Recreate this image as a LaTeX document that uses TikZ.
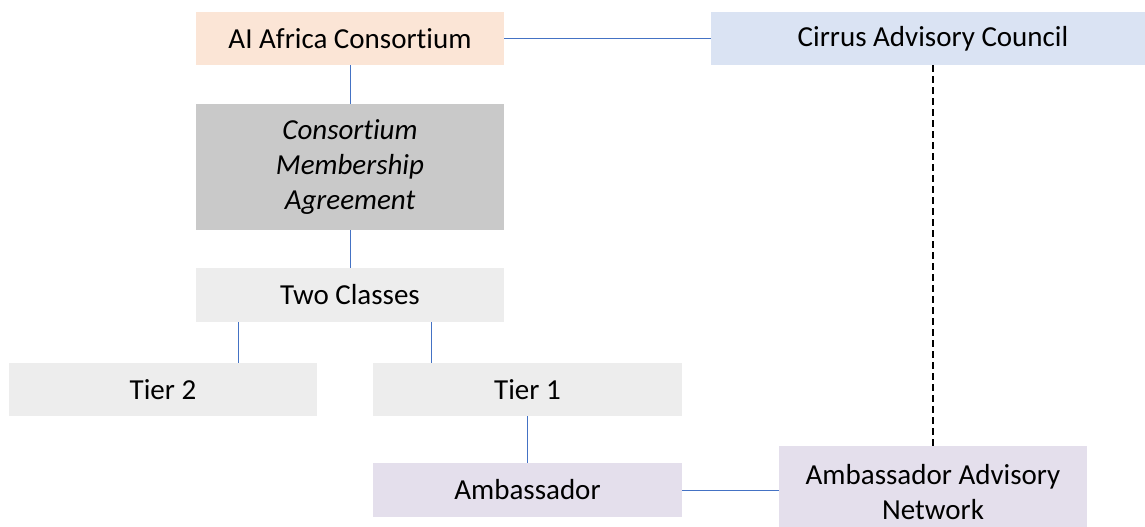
\documentclass[tikz,border=0pt]{standalone}
\usepackage{fontspec}
\setmainfont[Ligatures={NoCommon,NoRare,NoContextual},RawFeature={-liga;-clig;-dlig;-calt;-hlig}]{Carlito}
\definecolor{peach}{HTML}{FBE5D6}
\definecolor{paleblue}{HTML}{DAE3F3}
\definecolor{midgray}{HTML}{C9C9C9}
\definecolor{lightgray}{HTML}{EDEDED}
\definecolor{lavender}{HTML}{E4DFEC}
\definecolor{linkblue}{HTML}{4472C4}
\tikzset{
  box/.style={rectangle, draw=none, inner sep=0pt, align=center, text=black,
    font=\fontsize{29}{35}\selectfont},
  link/.style={draw=linkblue, line width=1pt},
  dashlink/.style={draw=black, line width=1.6pt, dash pattern=on 7pt off 4pt}
}
\begin{document}
\begin{tikzpicture}[x=1pt,y=-1pt]
\useasboundingbox (0,0) rectangle (1145,527);
\node[box, fill=peach, minimum width=308pt, minimum height=53pt] (ai) at (350,38.5) {AI Africa Consort\kern0pt ium};
\node[box, fill=paleblue, minimum width=444pt, minimum height=53pt] (cirrus) at (933,38.5) {Cirrus Advisory Council};
\node[box, fill=midgray, minimum width=308pt, minimum height=126pt, font=\fontsize{29}{35}\selectfont\itshape] (cma) at (350,167) {Consort\kern0pt ium\\Membership\\Agreement};
\node[box, fill=lightgray, minimum width=308pt, minimum height=54pt] (two) at (350,295) {Two Classes};
\node[box, fill=lightgray, minimum width=308pt, minimum height=53pt] (tier2) at (163,389.5) {Tier 2};
\node[box, fill=lightgray, minimum width=309pt, minimum height=53pt] (tier1) at (527.5,389.5) {Tier 1};
\node[box, fill=lavender, minimum width=309pt, minimum height=54pt] (amb) at (527.5,490) {Ambassador};
\node[box, fill=lavender, minimum width=308pt, minimum height=92pt] (aan) at (933,492) {Ambassador Advisory\\Network};
\draw[link] (ai.east) -- (ai.east -| cirrus.west);
\draw[link] (ai.south) -- (cma.north);
\draw[link] (cma.south) -- (two.north);
\draw[link] (238,0 |- two.south) -- (238,0 |- tier2.north);
\draw[link] (431,0 |- two.south) -- (431,0 |- tier1.north);
\draw[link] (tier1.south) -- (amb.north);
\draw[link] (amb.east) -- (amb.east -| aan.west);
\draw[dashlink] (aan.north |- cirrus.south) -- (aan.north);
\end{tikzpicture}
\end{document}
